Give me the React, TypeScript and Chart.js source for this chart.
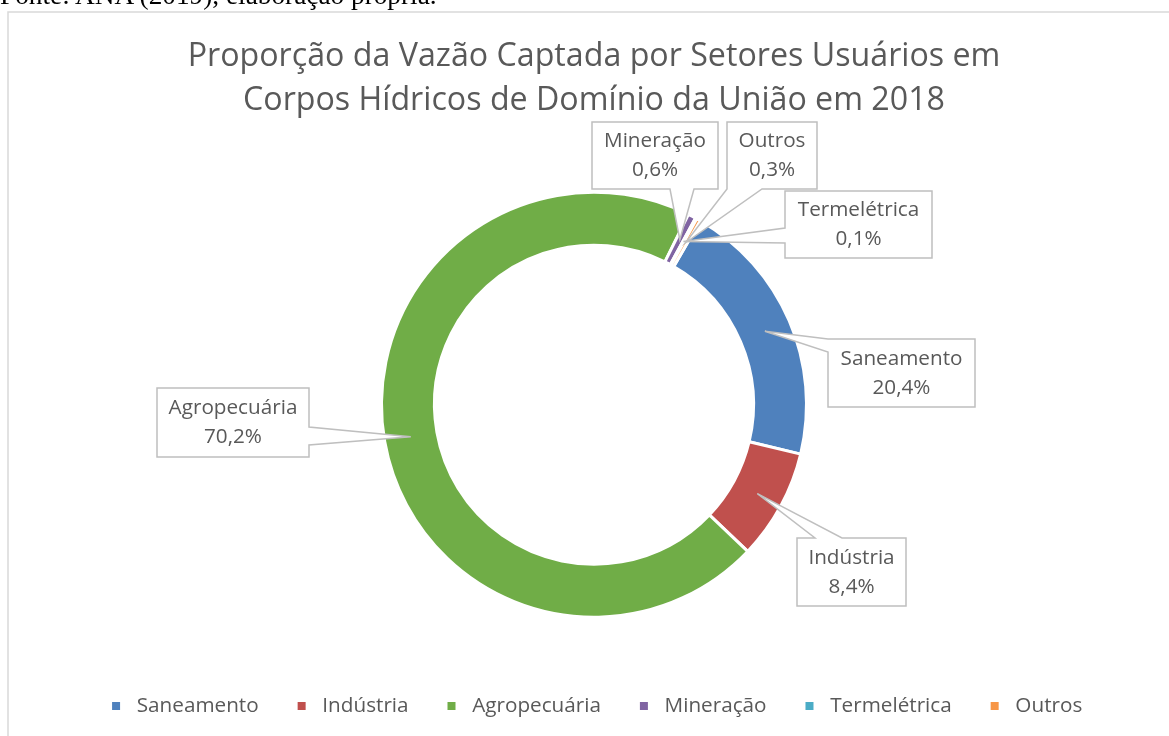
import React, { useEffect, useRef } from "react";
import { Chart, registerables } from "chart.js";

Chart.register(...registerables);

const titleLines = [
  "Proporção da Vazão Captada por Setores Usuários em",
  "Corpos Hídricos de Domínio da União em 2018",
];
const categories = ["Saneamento", "Indústria", "Agropecuária", "Mineração", "Termelétrica", "Outros"];
const shares = [20.4, 8.4, 70.2, 0.6, 0.1, 0.3];
const sliceColors = ["#4f81bd", "#c0504d", "#70ad47", "#8064a2", "#4bacc6", "#f79646"];
const sourceNote = "Fonte: ANA (2019), elaboração própria.";

// callout box layout (pixel positions), index-aligned with categories
const calloutLayout = [
  { x0: 828, y0: 339, x1: 975, y1: 407, side: "left", a: 339, b: 352 },
  { x0: 797, y0: 538, x1: 906, y1: 606, side: "top", a: 815, b: 842 },
  { x0: 157, y0: 388, x1: 309, y1: 457, side: "right", a: 427, b: 445 },
  { x0: 592, y0: 122, x1: 718, y1: 189, side: "bottom", a: 670, b: 694 },
  { x0: 785, y0: 191, x1: 932, y1: 258, side: "left", a: 228, b: 243 },
  { x0: 727, y0: 122, x1: 817, y1: 189, side: "bottom", a: 727, b: 762 },
];
const drawOrder = [0, 1, 2, 3, 5, 4];

const TEXT = "#595959";
const FONT = "'Open Sans', 'Noto Sans', sans-serif";
const LABEL_SIZE = 20.7;

const fmt = (v: number) => v.toFixed(1).replace(".", ",") + "%";

const frame = {
  id: "frame",
  beforeDraw(chart: any) {
    const ctx = chart.ctx;
    ctx.save();
    ctx.strokeStyle = "#d9d9d9";
    ctx.lineWidth = 1.5;
    ctx.strokeRect(8, 12, 1300, 900);
    ctx.restore();
  },
};

const callouts = {
  id: "callouts",
  afterDatasetsDraw(chart: any) {
    const ctx = chart.ctx;
    const meta = chart.getDatasetMeta(0);
    ctx.save();
    drawOrder.forEach((i) => {
      const arc = meta.data[i];
      const L = calloutLayout[i];
      if (!arc || !L) return;
      const p = arc.getProps(["x", "y", "startAngle", "endAngle", "innerRadius", "outerRadius"], true);
      const mid = (p.startAngle + p.endAngle) / 2;
      const r = (p.innerRadius + p.outerRadius) / 2;
      const ax = p.x + r * Math.cos(mid);
      const ay = p.y + r * Math.sin(mid);
      const { x0, y0, x1, y1, side, a, b } = L;
      ctx.beginPath();
      ctx.moveTo(x0, y0);
      if (side === "top") {
        ctx.lineTo(a, y0); ctx.lineTo(ax, ay); ctx.lineTo(b, y0);
      }
      ctx.lineTo(x1, y0);
      if (side === "right") {
        ctx.lineTo(x1, a); ctx.lineTo(ax, ay); ctx.lineTo(x1, b);
      }
      ctx.lineTo(x1, y1);
      if (side === "bottom") {
        ctx.lineTo(b, y1); ctx.lineTo(ax, ay); ctx.lineTo(a, y1);
      }
      ctx.lineTo(x0, y1);
      if (side === "left") {
        ctx.lineTo(x0, b); ctx.lineTo(ax, ay); ctx.lineTo(x0, a);
      }
      ctx.closePath();
      ctx.fillStyle = "#ffffff";
      ctx.fill();
      ctx.strokeStyle = "#bfbfbf";
      ctx.lineWidth = 1.5;
      ctx.lineJoin = "miter";
      ctx.stroke();
      const cx = (x0 + x1) / 2;
      const cy = (y0 + y1) / 2;
      ctx.fillStyle = TEXT;
      ctx.font = `${LABEL_SIZE}px ${FONT}`;
      ctx.textAlign = "center";
      ctx.textBaseline = "middle";
      ctx.fillText(categories[i], cx, cy - 14);
      ctx.fillText(fmt(shares[i]), cx, cy + 15);
    });
    ctx.restore();
  },
};

export default function App() {
  const ref = useRef<HTMLCanvasElement | null>(null);
  useEffect(() => {
    if (!ref.current) return;
    const chart = new Chart(ref.current, {
      type: "doughnut",
      data: {
        labels: categories,
        datasets: [
          {
            data: shares,
            backgroundColor: sliceColors,
            borderColor: "#ffffff",
            borderWidth: 3,
          },
        ],
      },
      options: {
        responsive: false,
        animation: false,
        rotation: 30,
        radius: 212.5,
        cutout: "75.06%",
        layout: { padding: { left: 20, right: 1, top: 0, bottom: 9.7 } },
        plugins: {
          tooltip: { enabled: false },
          title: {
            display: true,
            text: titleLines,
            color: TEXT,
            font: { family: FONT, size: 32.2, weight: "normal", lineHeight: 44 / 32.2 },
            padding: { top: 35, bottom: 23.4 },
          },
          legend: {
            display: true,
            position: "bottom",
            labels: {
              color: TEXT,
              font: { family: FONT, size: LABEL_SIZE },
              usePointStyle: true,
              pointStyle: "rect",
              boxWidth: 22,
              boxHeight: 8,
              padding: 32.6,
              generateLabels: (chart: any) =>
                Chart.overrides.doughnut.plugins.legend.labels
                  .generateLabels(chart)
                  .map((it: any) => ({ ...it, lineWidth: 0, strokeStyle: it.fillStyle })),
            },
          },
        },
      },
      plugins: [frame, callouts],
    } as any);
    return () => chart.destroy();
  }, []);
  return (
    <div style={{ position: "absolute", left: 0, top: 0, width: 1169, height: 736, overflow: "hidden", background: "#fff" }}>
      <div
        style={{
          position: "absolute",
          left: 0,
          top: -20,
          fontFamily: "'Liberation Serif', 'Times New Roman', serif",
          fontSize: "27.3px",
          whiteSpace: "nowrap",
          color: "#000",
          zIndex: 1,
        }}
      >
        {sourceNote}
      </div>
      <canvas ref={ref} width={1169} height={736} style={{ position: "absolute", left: 0, top: 0, display: "block" }} />
    </div>
  );
}
